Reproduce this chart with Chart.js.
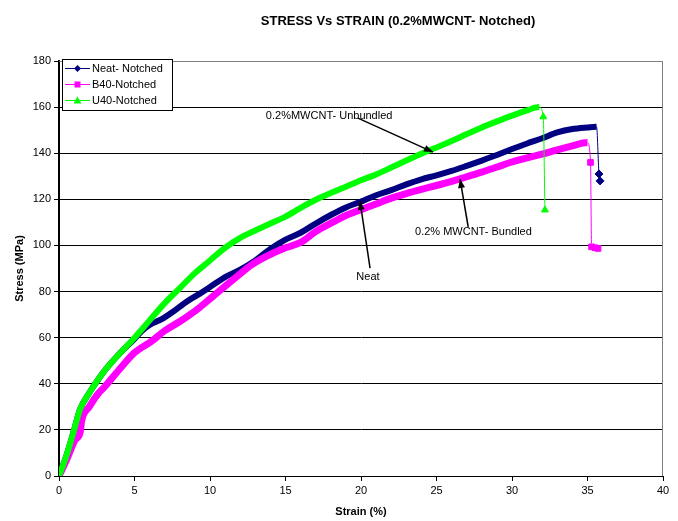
<!DOCTYPE html>
<html>
<head>
<meta charset="utf-8">
<script src="https://cdn.jsdelivr.net/npm/chart.js@4.4.1/dist/chart.umd.min.js"></script>
<style>
  html, body { margin: 0; padding: 0; background: #fff; }
  #wrap { width: 678px; height: 521px; }
</style>
</head>
<body>
<div id="wrap"><canvas id="c"></canvas></div>
<script>
// strain (%) / stress (MPa)
var strainNeat = [0, 0.5, 1, 1.4, 2, 2.5, 3, 4, 5, 5.5, 6, 6.8, 7.5, 8.5, 9.3, 10, 11, 12, 13, 14, 15, 16, 17, 18, 19, 20, 21, 22, 23, 24, 25, 26, 27, 28, 29, 30, 31, 32, 33, 34, 35, 35.6, 35.76, 35.83];
var stressNeat = [0, 9, 20, 29, 36, 41, 45.5, 53, 59.5, 63, 65.5, 68, 71, 75.8, 79, 82, 86.3, 89.5, 93.5, 98.5, 102.5, 105.5, 109.5, 113.2, 116.5, 119, 121.8, 124, 126.5, 128.7, 130.4, 132.3, 134.5, 136.8, 139.2, 141.8, 144.2, 146.5, 149, 150.5, 151.2, 151.5, 131, 128];

var strainB40 = [0, 0.5, 1.06, 1.4, 1.5, 2, 2.6, 3, 4.15, 5, 6.14, 7, 8, 8.56, 9.3, 10.3, 11.5, 12.8, 13.8, 15, 16, 17, 18.2, 19, 20, 21, 22, 23, 24, 25, 26, 27, 28, 29, 30, 31, 32, 33, 34, 35, 35.2, 35.27, 35.5, 35.7];
var stressB40 = [0, 7, 15.6, 19, 24, 30, 35.8, 38.5, 47.4, 53.5, 58.5, 63, 67, 69.5, 73, 78.5, 85, 91.8, 95.5, 99, 101.3, 106, 110.3, 113, 115.5, 118, 120.5, 122.5, 124.3, 126, 127.8, 129.8, 131.8, 134, 136.2, 138, 139.6, 141.5, 143.2, 144.6, 136, 99.4, 99, 98.7];

var strainU40 = [0, 0.5, 1, 1.4, 2, 2.5, 3, 4, 5, 6, 7, 8, 9, 10, 11, 12, 13, 14, 15, 16, 17, 18, 19, 20, 21, 22, 23, 24, 25, 26, 27, 28, 29, 30, 31, 31.8, 32.07, 32.18];
var stressU40 = [0, 9, 20, 29, 36, 41, 45.5, 53, 60, 67.5, 75, 81.5, 88, 93.5, 99, 103.3, 106.5, 109.5, 112.5, 116.3, 119.8, 122.7, 125.5, 128.3, 130.8, 133.8, 136.8, 139.8, 142.5, 145.3, 148.3, 151.2, 153.8, 156.3, 158.6, 160, 155.8, 115.4];

// index where the failure drop begins (thin line + markers)
var dropNeat = 41, dropB40 = 39, dropU40 = 35;

var xTicks = [0, 40, 5];
var yTicks = [0, 180, 20];

function pts(xs, ys) {
    return xs.map(function (x, i) { return {x: x, y: ys[i]}; });
}

var FONT = "'Liberation Sans', Arial, sans-serif";

function makeSet(label, xs, ys, color, style, drop, width, order) {
    return {
        label: label,
        data: pts(xs, ys),
        order: order,
        showLine: true,
        borderColor: color,
        backgroundColor: color,
        pointStyle: style,
        pointRadius: function (ctx) { return ctx.dataIndex > drop ? 4 : 0; },
        pointBorderWidth: 1,
        cubicInterpolationMode: 'monotone',
        borderWidth: width,
        segment: {
            borderWidth: function (ctx) { return ctx.p0DataIndex >= drop ? 1 : width; }
        }
    };
}

// labels + arrows placed in data units
var notes = [
    {text: "0.2%MWCNT- Unbundled", tx: 13.7, ty: 156.1, align: 'left', ax0: 19.8, ay0: 155.2, ax1: 24.77, ay1: 140.5},
    {text: "Neat", tx: 20.46, ty: 86.3, align: 'center', ax0: 20.6, ay0: 90.2, ax1: 19.93, ay1: 119.3},
    {text: "0.2% MWCNT- Bundled", tx: 23.58, ty: 105.8, align: 'left', ax0: 27.1, ay0: 108, ax1: 26.56, ay1: 128.8}
];

var extras = {
    id: 'extras',
    beforeDatasetsDraw: function (chart) {
        var a = chart.chartArea, ctx = chart.ctx;
        ctx.save();
        ctx.strokeStyle = '#808080';
        ctx.lineWidth = 1;
        ctx.beginPath();
        ctx.moveTo(a.left, a.top + 0.5);
        ctx.lineTo(a.right - 0.5, a.top + 0.5);
        ctx.lineTo(a.right - 0.5, a.bottom);
        ctx.stroke();
        ctx.restore();
    },
    afterDraw: function (chart) {
        var ctx = chart.ctx, a = chart.chartArea;
        var xs = chart.scales.x, ys = chart.scales.y;
        ctx.save();
        // title
        ctx.fillStyle = '#000';
        ctx.font = 'bold 13px ' + FONT;
        ctx.textAlign = 'center';
        ctx.textBaseline = 'middle';
        ctx.fillText('STRESS Vs STRAIN (0.2%MWCNT- Notched)', 398, 21);

        // annotations
        ctx.font = '11px ' + FONT;
        notes.forEach(function (n) {
            ctx.textAlign = n.align;
            ctx.fillText(n.text, xs.getPixelForValue(n.tx), ys.getPixelForValue(n.ty));
            var x0 = xs.getPixelForValue(n.ax0), y0 = ys.getPixelForValue(n.ay0);
            var x1 = xs.getPixelForValue(n.ax1), y1 = ys.getPixelForValue(n.ay1);
            ctx.strokeStyle = '#000';
            ctx.lineWidth = 1.5;
            ctx.beginPath(); ctx.moveTo(x0, y0); ctx.lineTo(x1, y1); ctx.stroke();
            var ang = Math.atan2(y1 - y0, x1 - x0), L = 9, W = 3.5;
            ctx.beginPath();
            ctx.moveTo(x1, y1);
            ctx.lineTo(x1 - L * Math.cos(ang) + W * Math.sin(ang), y1 - L * Math.sin(ang) - W * Math.cos(ang));
            ctx.lineTo(x1 - L * Math.cos(ang) - W * Math.sin(ang), y1 - L * Math.sin(ang) + W * Math.cos(ang));
            ctx.closePath();
            ctx.fill();
        });

        // legend box
        var lx = a.left + 3, ly = a.top - 2, lw = 110, lh = 51;
        ctx.fillStyle = '#fff';
        ctx.fillRect(lx, ly, lw, lh);
        ctx.strokeStyle = '#000';
        ctx.lineWidth = 1;
        ctx.strokeRect(lx + 0.5, ly + 0.5, lw, lh);
        ctx.textAlign = 'left';
        chart.data.datasets.forEach(function (ds, i) {
            var yy = ly + 9.5 + i * 16;
            ctx.strokeStyle = ds.borderColor;
            ctx.fillStyle = ds.borderColor;
            ctx.lineWidth = 1;
            ctx.beginPath(); ctx.moveTo(lx + 3, yy); ctx.lineTo(lx + 28, yy); ctx.stroke();
            var cx = lx + 15.5, r = 3.5;
            ctx.beginPath();
            if (ds.pointStyle === 'rectRot') {
                ctx.moveTo(cx, yy - r); ctx.lineTo(cx + r, yy); ctx.lineTo(cx, yy + r); ctx.lineTo(cx - r, yy);
            } else if (ds.pointStyle === 'rect') {
                ctx.rect(cx - 3, yy - 3, 6, 6);
            } else {
                ctx.moveTo(cx, yy - 4); ctx.lineTo(cx + 4, yy + 3); ctx.lineTo(cx - 4, yy + 3);
            }
            ctx.closePath();
            ctx.fill();
            ctx.fillStyle = '#000';
            ctx.fillText(ds.label, lx + 30, yy + 0.5);
        });
        ctx.restore();
    }
};

new Chart(document.getElementById('c'), {
    type: 'scatter',
    data: {
        datasets: [
            makeSet('Neat- Notched', strainNeat, stressNeat, '#000080', 'rectRot', dropNeat, 6, 3),
            makeSet('B40-Notched', strainB40, stressB40, '#FF00FF', 'rect', dropB40, 7, 2),
            makeSet('U40-Notched', strainU40, stressU40, '#00FF00', 'triangle', dropU40, 6, 1)
        ]
    },
    options: {
        responsive: true,
        maintainAspectRatio: false,
        animation: false,
        layout: {padding: {top: 61, right: 15, left: 0, bottom: 0}},
        plugins: {
            legend: {display: false},
            title: {display: false},
            tooltip: {enabled: false}
        },
        scales: {
            x: {
                type: 'linear',
                min: xTicks[0], max: xTicks[1],
                ticks: {stepSize: xTicks[2], color: '#000', padding: 3, maxRotation: 0,
                        font: {family: FONT, size: 11}},
                grid: {drawOnChartArea: false, color: '#000', tickLength: 5},
                border: {color: '#000', width: 1},
                title: {display: true, text: 'Strain (%)', color: '#000',
                        font: {family: FONT, size: 11, weight: 'bold'}, padding: {top: 0, bottom: 2.5}},
                afterFit: function (s) { s.height = 45; }
            },
            y: {
                min: yTicks[0], max: yTicks[1],
                ticks: {stepSize: yTicks[2], color: '#000', padding: 3,
                        font: {family: FONT, size: 11}},
                grid: {
                    color: function (ctx) { return ctx.tick && ctx.tick.value === 180 ? '#808080' : '#000'; },
                    tickColor: '#000', tickLength: 5
                },
                border: {color: '#000', width: 2},
                title: {display: true, text: 'Stress (MPa)', color: '#000',
                        font: {family: FONT, size: 11, weight: 'bold'}, padding: {top: 13, bottom: 0}},
                afterFit: function (s) { s.width = 59; }
            }
        }
    },
    plugins: [extras]
});
</script>
</body>
</html>
